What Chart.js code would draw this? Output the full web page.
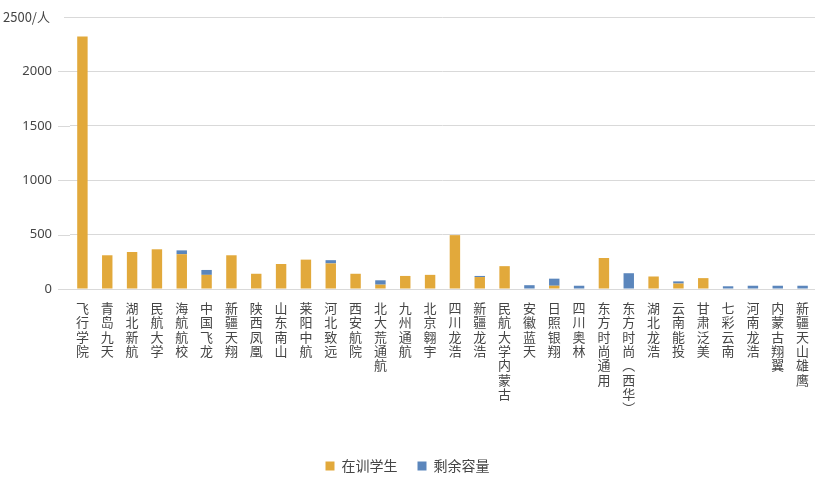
<!DOCTYPE html>
<html>
<head>
<meta charset="utf-8">
<script src="https://cdn.jsdelivr.net/npm/chart.js@4/dist/chart.umd.min.js"></script>
<style>
  html, body { margin: 0; padding: 0; background: #fff; }
  #wrap { width: 815px; height: 483px; }
</style>
</head>
<body>
<div id="wrap"><canvas id="schoolChart"></canvas></div>
<script>
const schools = [
  '飞行学院', '青岛九天', '湖北新航', '民航大学', '海航航校', '中国飞龙', '新疆天翔',
  '陕西凤凰', '山东南山', '莱阳中航', '河北致远', '西安航院', '北大荒通航', '九州通航',
  '北京翱宇', '四川龙浩', '新疆龙浩', '民航大学内蒙古', '安徽蓝天', '日照银翔', '四川奥林',
  '东方时尚通用', '东方时尚︵西华︶', '湖北龙浩', '云南能投', '甘肃泛美', '七彩云南',
  '河南龙浩', '内蒙古翔翼', '新疆天山雄鹰'
];
const trainees = [2320, 310, 340, 365, 320, 130, 310, 140, 230, 270, 235, 140, 40, 120,
  130, 495, 110, 210, 0, 30, 0, 285, 0, 115, 50, 100, 0, 0, 0, 0];
const spareCapacity = [0, 0, 0, 0, 35, 45, 0, 0, 0, 0, 30, 0, 40, 0,
  0, 0, 10, 0, 35, 65, 30, 0, 145, 0, 20, 0, 25, 30, 30, 30];
const yTicks = [0, 500, 1000, 1500, 2000, 2500];
const topLabel = '2500/人';

const goldColor = '#E2A93B';
const blueColor = '#5B86BC';
const textColor = '#454545';

// top tick carries the unit, drawn left-aligned like the original
const unitLabel = {
  id: 'unitLabel',
  afterDraw(chart) {
    const y = chart.scales.y;
    const ctx = chart.ctx;
    ctx.save();
    ctx.font = '13px "Noto Sans CJK SC", "Noto Sans", sans-serif';
    ctx.fillStyle = textColor;
    ctx.textAlign = 'left';
    ctx.textBaseline = 'middle';
    const ty = y.getPixelForValue(2500);
    ctx.fillText(topLabel, 3, ty);
    ctx.strokeStyle = '#d9d9d9';
    ctx.lineWidth = 1;
    ctx.beginPath();
    yTicks.forEach(v => {
      const py = Math.round(y.getPixelForValue(v)) + 0.5;
      ctx.moveTo(v === 2500 ? 64 : 58, py);
      ctx.lineTo(chart.chartArea.left, py);
    });
    ctx.stroke();
    ctx.restore();
  }
};

new Chart(document.getElementById('schoolChart'), {
  type: 'bar',
  data: {
    labels: schools.map(s => s.split('')),
    datasets: [
      {
        label: '在训学生',
        data: trainees,
        backgroundColor: goldColor,
        barPercentage: 0.42,
        categoryPercentage: 1
      },
      {
        label: '剩余容量',
        data: spareCapacity,
        backgroundColor: blueColor,
        barPercentage: 0.42,
        categoryPercentage: 1
      }
    ]
  },
  plugins: [unitLabel],
  options: {
    responsive: true,
    maintainAspectRatio: false,
    animation: false,
    layout: { padding: { top: 17, right: 0, left: 0, bottom: 0 } },
    plugins: {
      tooltip: { enabled: false },
      legend: {
        position: 'bottom',
        labels: {
          boxWidth: 9,
          boxHeight: 9,
          padding: 20,
          color: textColor,
          font: { size: 14, family: '"Noto Sans CJK SC", sans-serif' }
        }
      }
    },
    scales: {
      x: {
        stacked: true,
        grid: { display: false },
        border: { color: '#d9d9d9' },
        afterFit: (s) => { s.height = 150; },
        ticks: {
          maxRotation: 0,
          minRotation: 0,
          autoSkip: false,
          color: textColor,
          padding: 4,
          font: { size: 13, family: '"Noto Sans CJK SC", sans-serif', lineHeight: 1.1 }
        }
      },
      y: {
        stacked: true,
        min: 0,
        max: 2500,
        afterFit: (s) => { s.width = 70; s.paddingTop = 0; },
        afterBuildTicks: (s) => { s.ticks = yTicks.map(v => ({ value: v })); },
        border: { display: false },
        grid: { color: '#d9d9d9', drawTicks: false },
        ticks: {
          padding: 18,
          color: textColor,
          font: { size: 13, family: '"Noto Sans", sans-serif' },
          callback: (v) => (v === 2500 ? '' : String(v))
        }
      }
    }
  }
});
</script>
</body>
</html>
